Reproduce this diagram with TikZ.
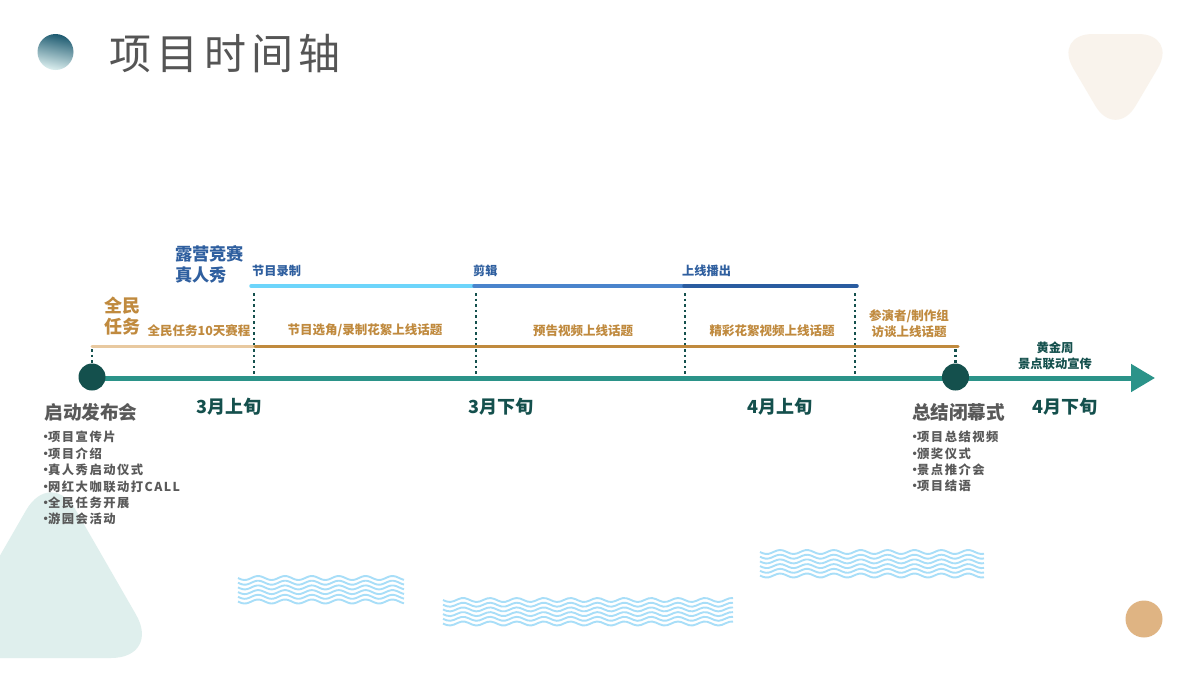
\documentclass[tikz,border=0pt]{standalone}
\usepackage{fontspec}
\setmainfont{Noto Sans CJK SC}
\newfontfamily\titlefont[LetterSpace=13]{Noto Sans CJK SC}
\newfontfamily\listfont[LetterSpace=12]{Noto Sans CJK SC}
\usetikzlibrary{arrows.meta}

\definecolor{axisgreen}{HTML}{2B9389}
\definecolor{darkgreen}{HTML}{14504D}
\definecolor{ochre}{HTML}{C08A3E}
\definecolor{paleochre}{HTML}{E8C9A0}
\definecolor{tanball}{HTML}{DFB483}
\definecolor{skyline}{HTML}{6DD5FB}
\definecolor{midline}{HTML}{4A84CC}
\definecolor{deepline}{HTML}{2A5CA0}
\definecolor{bluetext}{HTML}{2F5F9F}
\definecolor{graytext}{HTML}{595959}
\definecolor{wavecolor}{HTML}{A8DEF8}
\definecolor{balltop}{HTML}{1D5A70}
\definecolor{ballmid}{HTML}{4F93AD}
\definecolor{ballend}{HTML}{DCEFEF}

\tikzset{
    ochretext/.style={text=ochre, font=\bfseries\fontsize{12.5}{16}\selectfont, align=center, inner sep=0pt},
    bigochre/.style={text=ochre, font=\bfseries\fontsize{18}{21}\selectfont, align=center, inner sep=0pt},
    stagetext/.style={text=bluetext, font=\bfseries\fontsize{12.2}{14}\selectfont, anchor=west, inner sep=0pt},
    phasetext/.style={text=darkgreen, font=\bfseries\fontsize{18}{20}\selectfont, inner sep=0pt},
    meettext/.style={text=graytext, font=\bfseries\fontsize{18.6}{20}\selectfont, inner sep=0pt},
    itemtext/.style={text=graytext, font=\listfont\bfseries\fontsize{12.3}{16.4}\selectfont, align=left, anchor=north west, inner sep=0pt},
    tickline/.style={draw=darkgreen, line width=2.8pt, dash pattern=on 2.6pt off 3pt},
    milestone/.style={circle, fill=darkgreen, minimum size=27pt, inner sep=0pt}
}

% one patch of waves: left, top, right
\newcommand{\wavepatch}[3]{
    \foreach \row in {0,...,5} {
        \draw[wavecolor, line width=1.9pt]
            plot[smooth, samples=80, domain=#1:#3] (\x, {#2 + 2 + 4.7*\row + 2*sin(13.4*(\x-#1))});
    }
}
% tight bullet in the lists
\newcommand{\dotmark}{\makebox[5pt]{•}}

\begin{document}
\begin{tikzpicture}[x=1pt, y=-1pt]

    \useasboundingbox (0,0) rectangle (1200,675);
    \fill[white] (0,0) rectangle (1200,675);

    % Corner shapes
    \begin{scope}
        \clip (0,0) rectangle (1200,675);
        \fill[axisgreen!15, rounded corners=50pt] (-59,658) -- (51,467) -- (161,658) -- cycle;
    \end{scope}
    \fill[ochre!10, rounded corners=40pt] (1053,34) -- (1178,34) -- (1115.5,140) -- cycle;
    \fill[tanball] (1144,619) circle (18.5);

    % Title
    \shade[top color=balltop, middle color=ballmid, bottom color=ballend, shading angle=-12] (55.5,52) circle (18);
    \node[text=graytext!95!black, font=\titlefont\fontsize{42}{46}\selectfont, anchor=west, inner sep=0pt] (title) at (109,53.5) {项目时间轴};

    % Waves
    \wavepatch{238}{576}{404}
    \wavepatch{443}{598}{733}
    \wavepatch{760}{550}{984}

    % Coordinates on the three lines
    \coordinate (axisend) at (1155,378);
    \coordinate (axisstart) at (92,378);
    \coordinate (taskA) at (92,346);
    \coordinate (taskB) at (255,346);
    \coordinate (taskC) at (958,346);
    \coordinate (showA) at (251,286);
    \coordinate (showB) at (474,286);
    \coordinate (showC) at (684,286);
    \coordinate (showD) at (857,286);

    % Dotted ticks
    \foreach \x/\name in {254/a,476/b,685/c,855/d} {
        \coordinate (tick\name top) at (\x,293);
        \coordinate (tick\name bot) at (\x,376);
        \draw[tickline] (tick\name top) -- (tick\name bot);
    }

    % Main axis
    \draw[axisgreen, line width=5pt, -{Triangle[length=24pt,width=27pt]}] (axisstart) -- (axisend);
    \node[milestone] (startdot) at (92,377) {};
    \node[milestone] (enddot) at (955.5,377) {};
    \coordinate (startup) at (92,349);
    \coordinate (endup) at (955.5,349);
    \draw[tickline] (startup) -- (startdot);
    \draw[tickline] (endup) -- (enddot);

    % Task line and show line
    \draw[paleochre, line width=3pt, line cap=round] (taskA) -- (taskB);
    \draw[ochre, line width=3pt, line cap=round] (taskB) -- (taskC);
    \draw[skyline, line width=3.5pt, line cap=round] (showA) -- (showB);
    \draw[midline, line width=3.5pt, line cap=round] (showB) -- (showC);
    \draw[deepline, line width=3.5pt, line cap=round] (showC) -- (showD);

    % Labels above the lines
    \node[text=bluetext, font=\bfseries\fontsize{17.2}{21}\selectfont, align=left, anchor=west, inner sep=0pt] (showtitle) at (175,264) {露营竞赛\\真人秀};
    \node[stagetext] (record) at (252,270.5) {节目录制};
    \node[stagetext] (cut) at (473,270.5) {剪辑};
    \node[stagetext] (online) at (682,270.5) {上线播出};
    \node[bigochre] (tasktitle) at (122,316.5) {全民\\任务};
    \node[ochretext] (taskrun) at (199,330.5) {全民任务10天赛程};
    \node[ochretext] (topicA) at (365,330.5) {节目选角/录制花絮上线话题};
    \node[ochretext] (topicB) at (583,330.5) {预告视频上线话题};
    \node[ochretext] (topicC) at (772,330.5) {精彩花絮视频上线话题};
    \node[ochretext] (topicD) at (909,323.5) {参演者/制作组\\访谈上线话题};
    \node[text=darkgreen, font=\bfseries\fontsize{12.3}{16}\selectfont, align=center, inner sep=0pt] (golden) at (1055,355.5) {黄金周\\景点联动宣传};

    % Labels below the axis
    \node[phasetext] (marchA) at (229,407) {3月上旬};
    \node[phasetext] (marchB) at (501,407) {3月下旬};
    \node[phasetext] (aprilA) at (780,407) {4月上旬};
    \node[phasetext] (aprilB) at (1065,407) {4月下旬};
    \node[meettext] (openmeet) at (91,412.5) {启动发布会};
    \node[meettext] (closemeet) at (958.5,412.5) {总结闭幕式};
    \node[itemtext] (openlist) at (43,431) {\dotmark{}项目宣传片\\\dotmark{}项目介绍\\\dotmark{}真人秀启动仪式\\\dotmark{}网红大咖联动打CALL\\\dotmark{}全民任务开展\\\dotmark{}游园会活动};
    \node[itemtext] (closelist) at (912,431) {\dotmark{}项目总结视频\\\dotmark{}颁奖仪式\\\dotmark{}景点推介会\\\dotmark{}项目结语};

\end{tikzpicture}
\end{document}
